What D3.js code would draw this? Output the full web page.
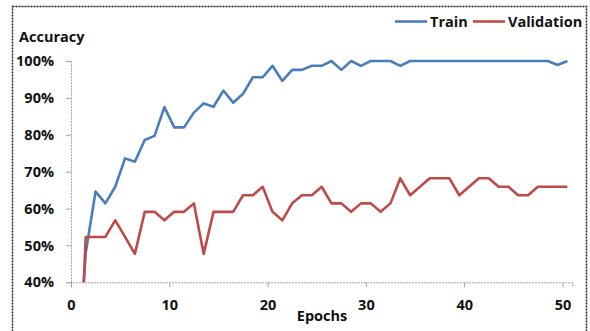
<!DOCTYPE html>
<html>
<head>
<meta charset="utf-8">
<script src="https://cdn.jsdelivr.net/npm/d3@7"></script>
<style>
  body { margin: 0; background: #fff; }
  text { font-family: "Open Sans", "Noto Sans", sans-serif; font-weight: bold; fill: #111; }
</style>
</head>
<body>
<div id="chart"></div>
<script>
// epochs (x positions of the points as drawn)
var epochs = [1.3, 1.5, 2.5, 3.5, 4.5, 5.5, 6.5, 7.5, 8.5, 9.5, 10.5,
  11.5, 12.5, 13.5, 14.5, 15.5, 16.5, 17.5, 18.5, 19.5, 20.5,
  21.5, 22.5, 23.5, 24.5, 25.5, 26.5, 27.5, 28.5, 29.5, 30.5,
  31.5, 32.5, 33.5, 34.5, 35.5, 36.5, 37.5, 38.5, 39.5, 40.5,
  41.5, 42.5, 43.5, 44.5, 45.5, 46.5, 47.5, 48.5, 49.5, 50.5];

// accuracy
var train = [0.40, 0.48, 0.646, 0.614, 0.659, 0.736, 0.727, 0.786, 0.797, 0.875, 0.82,
  0.82, 0.86, 0.885, 0.876, 0.92, 0.887, 0.911, 0.956, 0.956, 0.987,
  0.946, 0.976, 0.976, 0.987, 0.987, 1.0, 0.976, 1.0, 0.987, 1.0,
  1.0, 1.0, 0.987, 1.0, 1.0, 1.0, 1.0, 1.0, 1.0, 1.0,
  1.0, 1.0, 1.0, 1.0, 1.0, 1.0, 1.0, 1.0, 0.989, 1.0];

var validation = [0.40, 0.523, 0.523, 0.523, 0.568, 0.523, 0.477, 0.591, 0.591, 0.568, 0.591,
  0.591, 0.614, 0.477, 0.591, 0.591, 0.591, 0.636, 0.636, 0.659, 0.591,
  0.568, 0.614, 0.636, 0.636, 0.659, 0.614, 0.614, 0.591, 0.614, 0.614,
  0.591, 0.614, 0.682, 0.636, 0.659, 0.682, 0.682, 0.682, 0.636, 0.659,
  0.682, 0.682, 0.659, 0.659, 0.636, 0.636, 0.659, 0.659, 0.659, 0.659];

var xTicks = [0, 10, 20, 30, 40, 50];
var yTicks = [0.4, 0.5, 0.6, 0.7, 0.8, 0.9, 1.0];

var seriesNames = ["Train", "Validation"];
var colors = ["#4a7ebb", "#be4b48"];

var svgWidth = 590;
var svgHeight = 331;

var svg = d3.select("#chart")
  .append("svg")
  .attr("width", svgWidth)
  .attr("height", svgHeight);

// outer frame
svg.append("rect")
  .attr("x", 12.5)
  .attr("y", 6.5)
  .attr("width", 574)
  .attr("height", 340)
  .attr("fill", "none")
  .attr("stroke", "#222")
  .attr("stroke-width", 1.5)
  .attr("stroke-dasharray", "2,1");

var x = d3.scaleLinear().domain([0, 51]).range([71, 572.3]);
var y = d3.scaleLinear().domain([0.4, 1.0]).range([282.3, 61]);

// x axis
var xAxis = svg.append("g")
  .attr("transform", "translate(0,282.3)")
  .call(d3.axisBottom(x).tickValues(xTicks).tickSize(5).tickPadding(12).tickFormat(d3.format("d")));

// y axis
var yAxis = svg.append("g")
  .attr("transform", "translate(71,0)")
  .call(d3.axisLeft(y).tickValues(yTicks).tickSize(5).tickPadding(12).tickFormat(d3.format(".0%")));

[xAxis, yAxis].forEach(function(a) {
  a.select(".domain").attr("stroke", "#a6a6a6").attr("stroke-dasharray", "2,1");
  a.selectAll(".tick line").attr("stroke", "#a6a6a6");
  a.selectAll(".tick text")
    .style("font-size", "14.5px")
    .attr("fill", "#111");
});

// lines
var line = d3.line()
  .x(function(d, i) { return x(epochs[i]); })
  .y(function(d) { return y(d); });

[train, validation].forEach(function(s, i) {
  svg.append("path")
    .attr("d", line(s))
    .attr("fill", "none")
    .attr("stroke", colors[i])
    .attr("stroke-width", 2.6)
    .attr("stroke-linejoin", "round");
});

// axis titles
svg.append("text")
  .attr("x", 19)
  .attr("y", 42)
  .style("font-size", "14.5px")
  .text("Accuracy");

svg.append("text")
  .attr("x", 322)
  .attr("y", 321)
  .attr("text-anchor", "middle")
  .style("font-size", "14.5px")
  .text("Epochs");

// legend
var legendX = [395, 473];
seriesNames.forEach(function(name, i) {
  svg.append("line")
    .attr("x1", legendX[i])
    .attr("x2", legendX[i] + 32)
    .attr("y1", 21.5)
    .attr("y2", 21.5)
    .attr("stroke", colors[i])
    .attr("stroke-width", 2.6);
  svg.append("text")
    .attr("x", legendX[i] + 35)
    .attr("y", 26.5)
    .style("font-size", "14.5px")
    .text(name);
});
</script>
</body>
</html>
